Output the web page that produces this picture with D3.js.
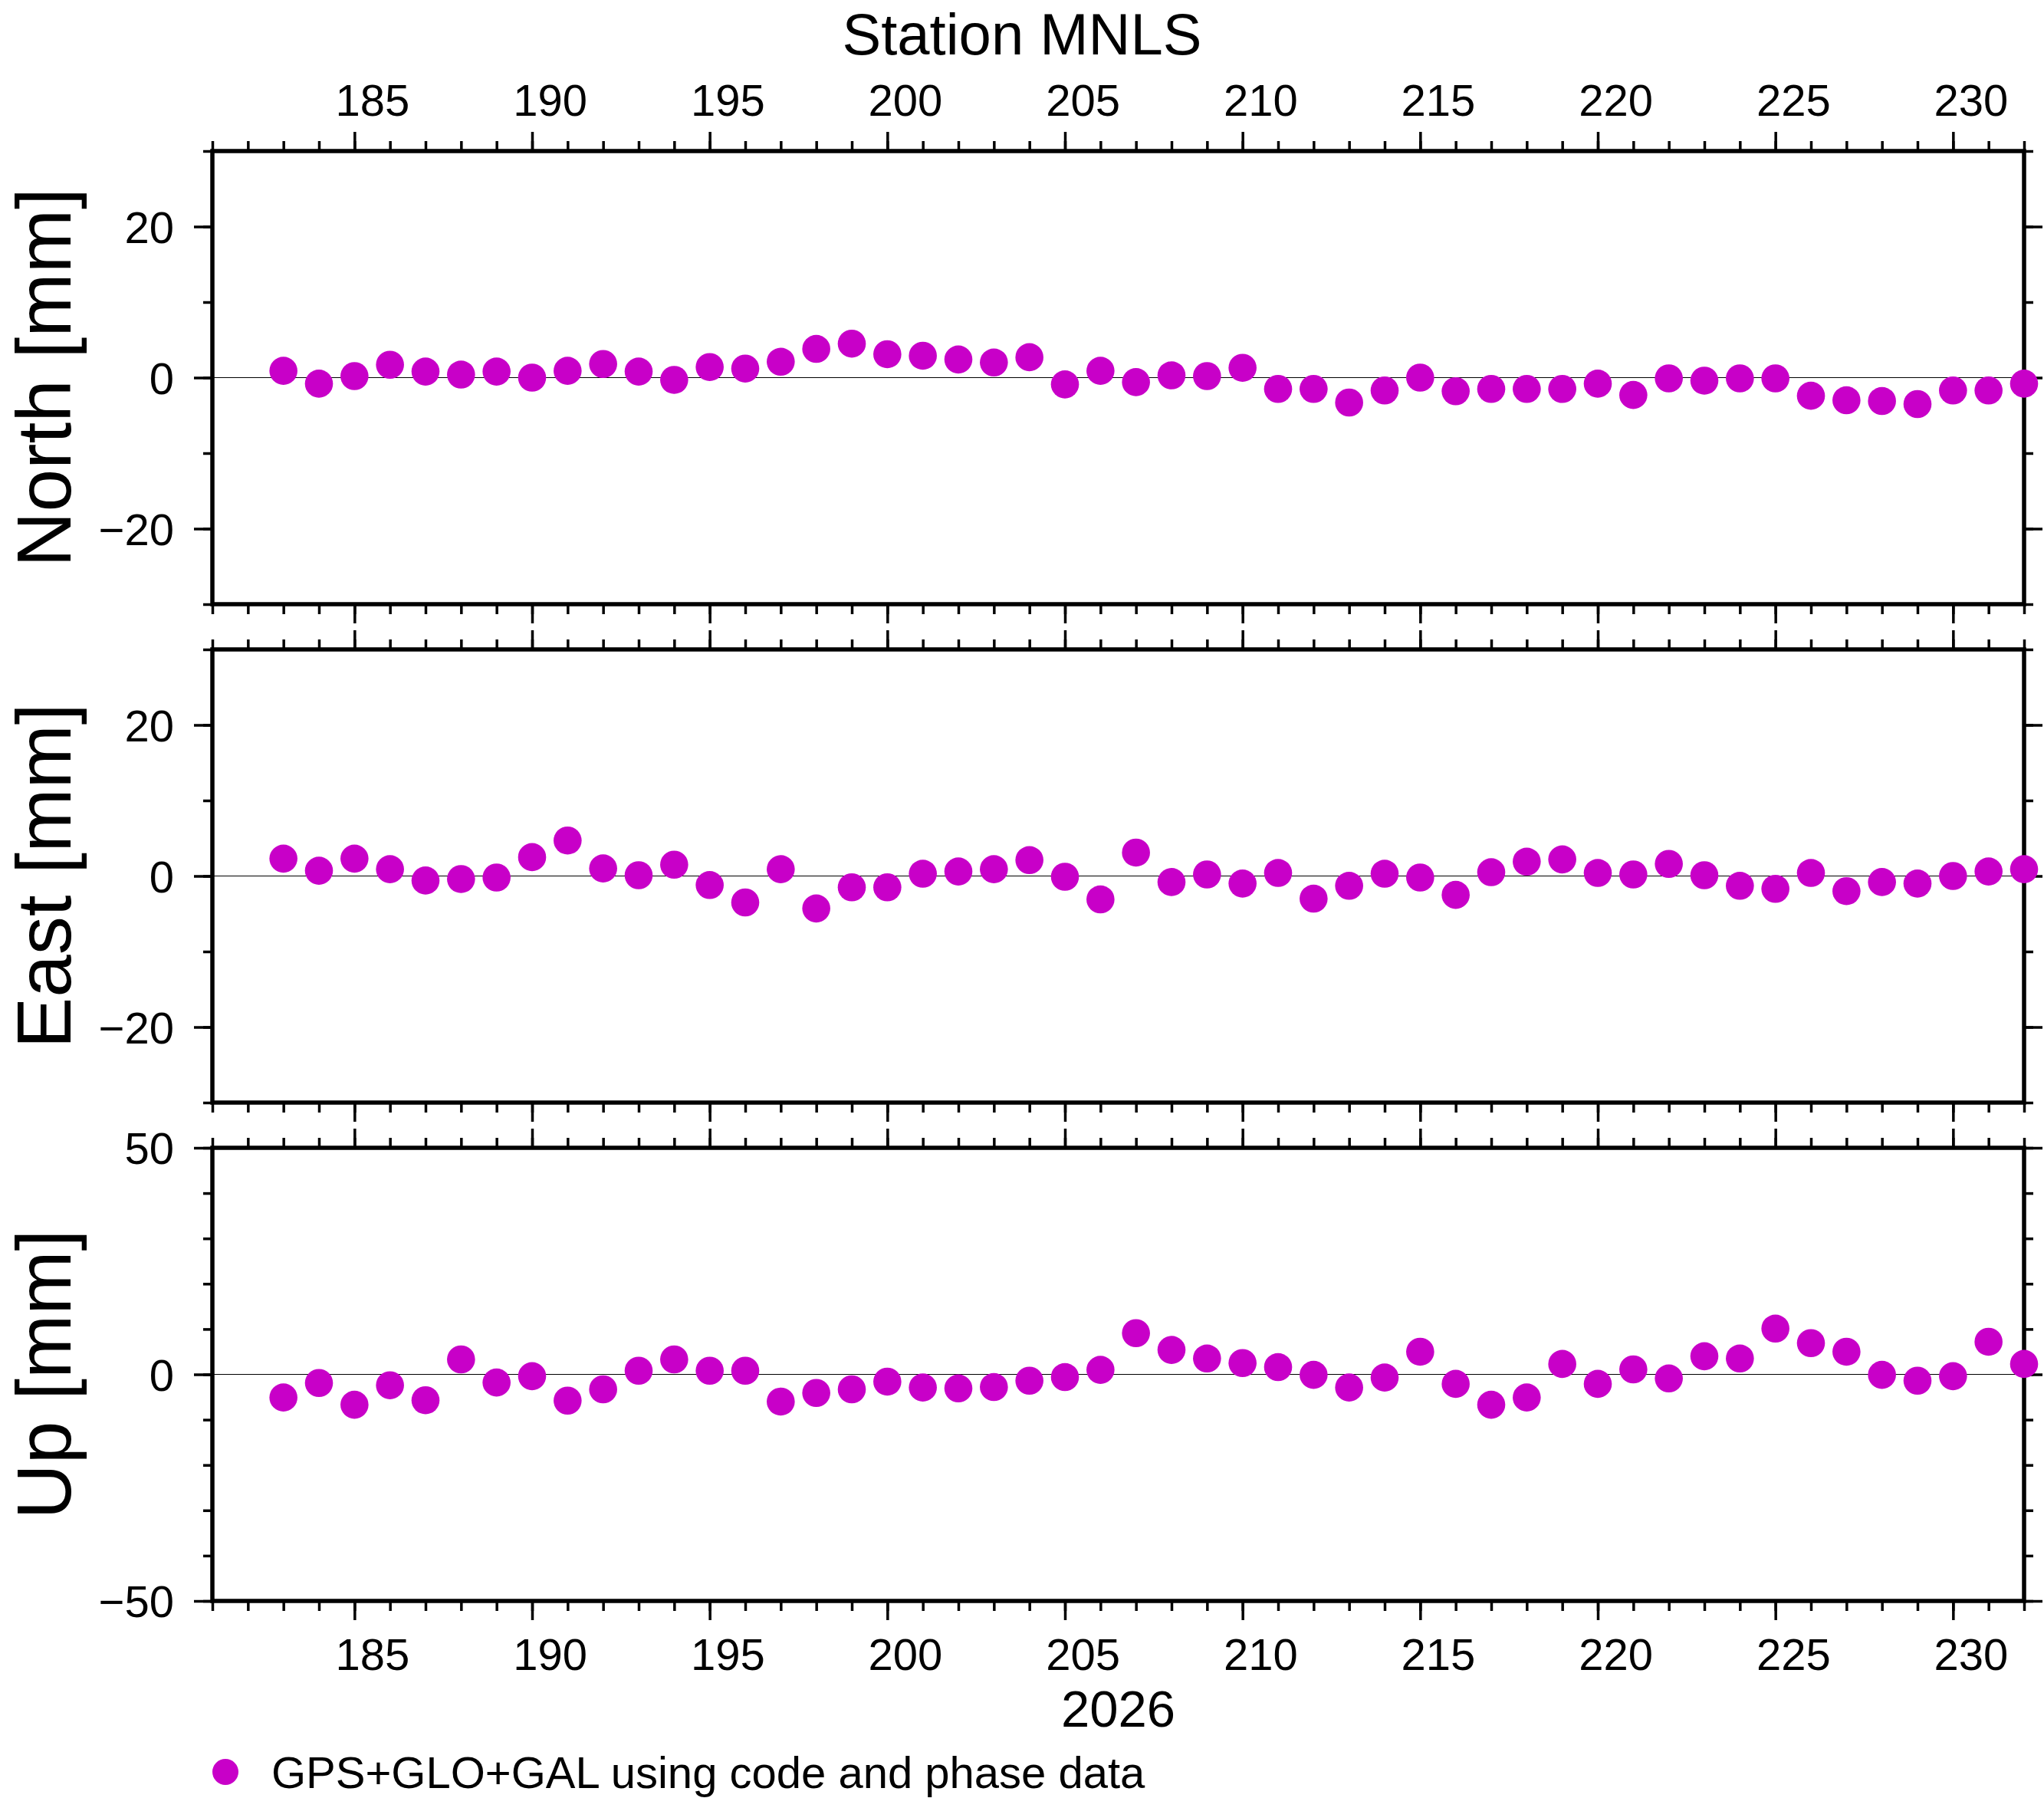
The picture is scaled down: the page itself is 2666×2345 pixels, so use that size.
<!DOCTYPE html>
<html>
<head>
<meta charset="utf-8">
<script src="https://cdn.jsdelivr.net/npm/d3@7"></script>
<style>
  body { margin: 0; background: #fff; }
  svg { display: block; }
</style>
</head>
<body>
<script>
// day of year 2026, one daily solution each
let days = [183, 184, 185, 186, 187, 188, 189, 190, 191, 192,
            193, 194, 195, 196, 197, 198, 199, 200, 201, 202,
            203, 204, 205, 206, 207, 208, 209, 210, 211, 212,
            213, 214, 215, 216, 217, 218, 219, 220, 221, 222,
            223, 224, 225, 226, 227, 228, 229, 230, 231, 232];

let north = [0.9, -0.8, 0.2, 1.7, 0.8, 0.4, 0.8, 0.0, 0.9, 1.8,
             0.8, -0.3, 1.4, 1.2, 2.1, 3.8, 4.5, 3.1, 2.9, 2.4,
             2.0, 2.7, -0.9, 0.9, -0.6, 0.3, 0.2, 1.3, -1.5, -1.5,
             -3.3, -1.7, 0.0, -1.8, -1.5, -1.5, -1.5, -0.8, -2.3, -0.1,
             -0.4, -0.1, -0.1, -2.4, -3.0, -3.1, -3.5, -1.7, -1.7, -0.8];

let east = [2.3, 0.7, 2.3, 0.9, -0.6, -0.4, -0.2, 2.5, 4.7, 1.0,
            0.1, 1.5, -1.2, -3.5, 0.9, -4.3, -1.5, -1.5, 0.3, 0.6,
            0.9, 2.1, -0.1, -3.1, 3.1, -0.8, 0.2, -1.0, 0.4, -3.0,
            -1.3, 0.3, -0.2, -2.5, 0.5, 1.9, 2.2, 0.4, 0.2, 1.6,
            0.1, -1.3, -1.7, 0.4, -2.0, -0.8, -1.0, 0.0, 0.6, 0.9];

let up = [-5.1, -1.9, -6.7, -2.4, -5.7, 3.3, -1.8, -0.4, -5.8, -3.3,
          0.8, 3.3, 0.8, 0.8, -6.0, -4.1, -3.3, -1.6, -2.9, -3.1,
          -2.8, -1.4, -0.6, 1.0, 9.1, 5.4, 3.5, 2.5, 1.6, -0.1,
          -2.9, -0.7, 5.0, -2.1, -6.7, -5.1, 2.3, -2.1, 1.1, -0.9,
          4.0, 3.5, 10.1, 6.9, 5.0, -0.1, -1.4, -0.4, 7.2, 2.3];

let dayLabels = [185, 190, 195, 200, 205, 210, 215, 220, 225, 230];
let panelLabels = ['North [mm]', 'East [mm]', 'Up [mm]'];
let panelSeries = [north, east, up];
let panelRanges = [[-30, 30], [-30, 30], [-50, 50]];
let panelMajor = [[-20, 0, 20], [-20, 0, 20], [-50, 0, 50]];
let panelMinor = [[-30, -20, -10, 0, 10, 20, 30],
                  [-30, -20, -10, 0, 10, 20, 30],
                  [-50, -40, -30, -20, -10, 0, 10, 20, 30, 40, 50]];

let title = 'Station MNLS';
let yearLabel = '2026';
let legendLabel = 'GPS+GLO+GAL using code and phase data';

let widthFigure = 2666;
let heightFigure = 2345;
let left = 277, right = 2640;
let panelTops = [197, 847, 1497];
let panelHeight = 591;
let fontFamily = '"Liberation Sans", Arial, Helvetica, sans-serif';
let dotColor = '#c800c8';

let svg = d3.select('body')
    .append('svg')
    .attr('width', widthFigure)
    .attr('height', heightFigure)
    .style('background', '#fff');

let xScale = d3.scaleLinear()
    .domain([181, 232])
    .range([left, right]);

let minorDays = d3.range(181, 233);

// draws tick marks only, no labels
let ticks = (g, axis, values, size) => {
    g.call(axis.tickValues(values).tickSize(size).tickSizeOuter(0).tickFormat(''));
    g.select('.domain').remove();
    g.selectAll('line').attr('stroke', '#000').attr('stroke-width', 3.5);
};

panelSeries.forEach((series, i) => {
    let top = panelTops[i];
    let bottom = top + panelHeight;

    let yScale = d3.scaleLinear()
        .domain(panelRanges[i])
        .range([bottom, top]);

    let g = svg.append('g');

    // zero line
    g.append('line')
        .attr('x1', xScale(181))
        .attr('x2', xScale(232))
        .attr('y1', yScale(0))
        .attr('y2', yScale(0))
        .attr('stroke', '#000')
        .attr('stroke-width', 1.2);

    // ticks on all four sides
    ticks(g.append('g').attr('transform', `translate(0,${top})`), d3.axisTop(xScale), minorDays, 13);
    ticks(g.append('g').attr('transform', `translate(0,${top})`), d3.axisTop(xScale), dayLabels, 25);
    ticks(g.append('g').attr('transform', `translate(0,${bottom})`), d3.axisBottom(xScale), minorDays, 13);
    ticks(g.append('g').attr('transform', `translate(0,${bottom})`), d3.axisBottom(xScale), dayLabels, 25);
    ticks(g.append('g').attr('transform', `translate(${left},0)`), d3.axisLeft(yScale), panelMinor[i], 12);
    ticks(g.append('g').attr('transform', `translate(${left},0)`), d3.axisLeft(yScale), panelMajor[i], 24);
    ticks(g.append('g').attr('transform', `translate(${right},0)`), d3.axisRight(yScale), panelMinor[i], 12);
    ticks(g.append('g').attr('transform', `translate(${right},0)`), d3.axisRight(yScale), panelMajor[i], 24);

    // y labels
    let yLab = g.append('g')
        .attr('transform', `translate(${left},0)`)
        .call(d3.axisLeft(yScale)
            .tickValues(panelMajor[i])
            .tickSize(0)
            .tickPadding(50)
            .tickFormat(d3.format('d')));
    yLab.select('.domain').remove();
    yLab.attr('font-family', fontFamily).attr('font-size', 58);
    yLab.selectAll('text').attr('dy', '0.36em').attr('fill', '#000');

    // day labels, centred on each day interval
    if (i == 0) {
        let xLab = g.append('g')
            .attr('transform', `translate(0,${top})`)
            .call(d3.axisTop(xScale)
                .tickValues(dayLabels.map(d => d + 0.5))
                .tickSize(0)
                .tickPadding(46)
                .tickFormat(d => d - 0.5));
        xLab.select('.domain').remove();
        xLab.attr('font-family', fontFamily).attr('font-size', 58);
        xLab.selectAll('text').attr('fill', '#000');
    }
    if (i == 2) {
        let xLab = g.append('g')
            .attr('transform', `translate(0,${bottom})`)
            .call(d3.axisBottom(xScale)
                .tickValues(dayLabels.map(d => d + 0.5))
                .tickSize(0)
                .tickPadding(49)
                .tickFormat(d => d - 0.5));
        xLab.select('.domain').remove();
        xLab.attr('font-family', fontFamily).attr('font-size', 58);
        xLab.selectAll('text').attr('fill', '#000');
    }

    // frame
    g.append('rect')
        .attr('x', left)
        .attr('y', top)
        .attr('width', right - left)
        .attr('height', panelHeight)
        .attr('fill', 'none')
        .attr('stroke', '#000')
        .attr('stroke-width', 5.5);

    // axis title
    g.append('text')
        .attr('transform', `translate(92,${(top + bottom) / 2}) rotate(-90)`)
        .attr('text-anchor', 'middle')
        .attr('font-family', fontFamily)
        .attr('font-size', 100)
        .text(panelLabels[i]);

    // points
    g.selectAll('circle')
        .data(series)
        .enter()
        .append('circle')
        .attr('cx', (d, j) => xScale(days[j]))
        .attr('cy', d => yScale(d))
        .attr('r', 18.3)
        .attr('fill', dotColor);
});

svg.append('text')
    .attr('x', widthFigure / 2)
    .attr('y', 71)
    .attr('text-anchor', 'middle')
    .attr('font-family', fontFamily)
    .attr('font-size', 76)
    .text(title);

svg.append('text')
    .attr('x', (left + right) / 2)
    .attr('y', 2252)
    .attr('text-anchor', 'middle')
    .attr('font-family', fontFamily)
    .attr('font-size', 67)
    .text(yearLabel);

// legend
svg.append('circle')
    .attr('cx', 294)
    .attr('cy', 2311)
    .attr('r', 17)
    .attr('fill', dotColor);

svg.append('text')
    .attr('x', 354)
    .attr('y', 2332)
    .attr('font-family', fontFamily)
    .attr('font-size', 58)
    .text(legendLabel);
</script>
</body>
</html>
